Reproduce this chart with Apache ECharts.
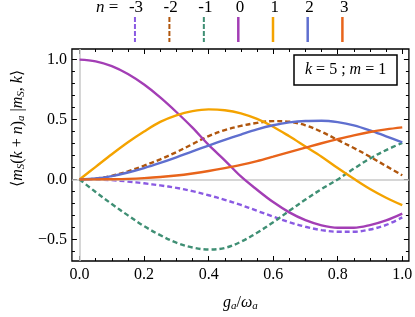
<!DOCTYPE html>
<html><head><meta charset="utf-8">
<script src="https://cdn.jsdelivr.net/npm/echarts@6/dist/echarts.min.js"></script>
<style>html,body{margin:0;padding:0;background:#fff}#c{width:415px;height:317px}</style>
</head><body><div id="c"></div>
<script>
// ---- data ----
const gValues = [0,0.05,0.1,0.15,0.2,0.25,0.3,0.35,0.4,0.45,0.5,0.55,0.6,0.65,0.7,0.75,0.8,0.85,0.9,0.95,1.0];
const nLabels = ['-3','-2','-1','0','1','2','3'];
const valsM3 = [0,-0.001,-0.006,-0.017,-0.032,-0.05,-0.07,-0.098,-0.132,-0.17,-0.213,-0.262,-0.31,-0.357,-0.395,-0.423,-0.437,-0.437,-0.418,-0.38,-0.317];
const valsM2 = [0,0.007,0.03,0.068,0.115,0.168,0.228,0.295,0.362,0.412,0.447,0.472,0.487,0.482,0.452,0.398,0.33,0.262,0.19,0.112,0.035];
const valsM1 = [0,-0.105,-0.205,-0.3,-0.39,-0.465,-0.528,-0.568,-0.585,-0.572,-0.52,-0.445,-0.358,-0.262,-0.168,-0.08,0.0,0.09,0.175,0.245,0.305];
const vals0  = [1.0,0.986,0.946,0.88,0.792,0.685,0.563,0.432,0.288,0.16,0.025,-0.086,-0.189,-0.275,-0.34,-0.383,-0.403,-0.403,-0.381,-0.342,-0.285];
const valsP1 = [0,0.105,0.21,0.31,0.4,0.48,0.535,0.57,0.585,0.578,0.552,0.505,0.44,0.36,0.275,0.19,0.095,0.005,-0.08,-0.153,-0.215];
const valsP2 = [0,0.008,0.028,0.058,0.095,0.138,0.185,0.235,0.283,0.33,0.375,0.418,0.452,0.476,0.488,0.49,0.478,0.452,0.41,0.36,0.31];
const valsP3 = [0,0.0005,0.002,0.005,0.011,0.02,0.033,0.05,0.07,0.094,0.121,0.153,0.19,0.228,0.265,0.302,0.336,0.368,0.396,0.418,0.435];
const xMajor = [0,0.2,0.4,0.6,0.8,1.0];
const xMinor = [0.05,0.1,0.15,0.25,0.3,0.35,0.45,0.5,0.55,0.65,0.7,0.75,0.85,0.9,0.95];
const yMajor = [-0.5,0,0.5,1.0];
const yMinor = [-0.6,-0.4,-0.3,-0.2,-0.1,0.1,0.2,0.3,0.4,0.6,0.7,0.8,0.9];

const seriesVals = [valsM3, valsM2, valsM1, vals0, valsP1, valsP2, valsP3];
const colors = ['#8a5ae2','#b0560d','#3f8f74','#a33eb5','#f4a300','#5f6fcf','#e8641b'];
const F = 'Liberation Serif';

const X0 = -0.0236, X1 = 1.0206, Y0 = -0.6808, Y1 = 1.0889;
const tickMajor = vals => ({show:true, inside:true, length:5, customValues:vals, lineStyle:{color:'#000', width:1}});
const tickMinor = vals => ({show:true, inside:true, length:3, customValues:vals, lineStyle:{color:'#000', width:1}});
function ax(min, max, extra){
  return Object.assign({type:'value', min:min, max:max, splitLine:{show:false},
    axisLine:{show:false, onZero:false}, axisTick:{show:false}, axisLabel:{show:false}}, extra);
}
const fmt = v => (v < 0 ? '\u2212' : '') + Math.abs(v).toFixed(1);
const dashIcon = 'path://M0,0h2v5h-2zM0,7h2v5h-2zM0,14h2v5h-2zM0,21h2v4h-2z';

const chart = echarts.init(document.getElementById('c'), null, {renderer:'canvas'});
const curveSeries = nLabels.map((n, i) => ({
  name: n, type:'line', xAxisIndex:0, yAxisIndex:0,
  data: gValues.map((g, j) => [g, seriesVals[i][j]]),
  smooth: 0.35, showSymbol:false, symbol:'none', z: 3 + i,
  lineStyle:{color: colors[i], width: 2.4, type: n.startsWith('-') ? [5,3] : 'solid'},
  itemStyle:{color: colors[i]}
}));

chart.setOption({
  animation:false,
  backgroundColor:'#fff',
  grid:{left:59, right:2, top:49, bottom:49, show:true, borderColor:'#000', borderWidth:1.3},
  title:{text:'{i|k} = 5 ; {i|m} = 1', left:294, top:55, padding:[7,11,7,11],
    borderColor:'#000', borderWidth:1.5,
    textStyle:{fontFamily:F, fontSize:16, fontWeight:'normal', color:'#000',
      rich:{i:{fontFamily:F, fontSize:16, fontStyle:'italic', color:'#000'}}}},
  legend:{
    data: nLabels.map(n => ({name:n, icon: n.startsWith('-') ? dashIcon : 'rect'})),
    left:128.7, top:12, itemWidth:2.5, itemHeight:25, itemGap:32.2,
    formatter: () => '', selectedMode:false,
    itemStyle:{borderWidth:0}, lineStyle:{width:0}
  },
  graphic:[
    {type:'text', x:96, y:8, style:{text:'{i|n} =', font:'17px ' + F, fill:'#000', verticalAlign:'middle',
      rich:{i:{fontStyle:'italic', fontFamily:F, fontSize:17}}}},
  ].concat(nLabels.map((n, i) => ({type:'text', x:136 + i*34.7, y:8,
      style:{text:n, font:'17px ' + F, fill:'#000', align:'center', verticalAlign:'middle'}}))),
  xAxis:[
    ax(X0, X1, {position:'bottom', axisTick:tickMajor(xMajor),
      axisLabel:{show:true, customValues:xMajor, formatter: v => v.toFixed(1), fontFamily:F, fontSize:16, color:'#000', margin:6},
      name:'{i|g}{s|a}/{i|\u03c9}{s|a}', nameLocation:'middle', nameGap:33,
      nameTextStyle:{fontFamily:F, fontSize:16, color:'#000', lineHeight:18,
        rich:{i:{fontFamily:F, fontStyle:'italic', fontSize:16, lineHeight:18},
              s:{fontFamily:F, fontStyle:'italic', fontSize:11, lineHeight:11, verticalAlign:'bottom'}}}}),
    ax(X0, X1, {position:'bottom', axisTick:tickMinor(xMinor)}),
    ax(X0, X1, {position:'top', axisTick:tickMajor(xMajor)}),
    ax(X0, X1, {position:'top', axisTick:tickMinor(xMinor)})
  ],
  yAxis:[
    ax(Y0, Y1, {position:'left', axisTick:tickMajor(yMajor),
      axisLabel:{show:true, customValues:yMajor, formatter: fmt, fontFamily:F, fontSize:16, color:'#000', margin:5},
      name:'\u27e8{i|m}{s|S}({i|k} + {i|n}){s|a} |{i|m}{s|S}, {i|k}\u27e9', nameLocation:'middle', nameGap:37, nameRotate:90,
      nameTextStyle:{fontFamily:F, fontSize:16, color:'#000', lineHeight:19, padding:[0,0,0,53],
        rich:{i:{fontFamily:F, fontStyle:'italic', fontSize:16, lineHeight:19},
              s:{fontFamily:F, fontStyle:'italic', fontSize:11, lineHeight:11, verticalAlign:'bottom'}}}}),
    ax(Y0, Y1, {position:'left', axisTick:tickMinor(yMinor)}),
    ax(Y0, Y1, {position:'right', axisTick:tickMajor(yMajor)}),
    ax(Y0, Y1, {position:'right', axisTick:tickMinor(yMinor)})
  ],
  series:[{
    type:'line', xAxisIndex:0, yAxisIndex:0, data:[[0,0]], showSymbol:false, symbol:'none', silent:true, z:1,
    lineStyle:{width:0}, legendHoverLink:false,
    markLine:{silent:true, symbol:'none', label:{show:false}, animation:false,
      lineStyle:{color:'#c8c8c8', width:1.5, type:'solid'},
      data:[{yAxis:0},{xAxis:0}]}
  }].concat(curveSeries)
});
</script></body></html>
